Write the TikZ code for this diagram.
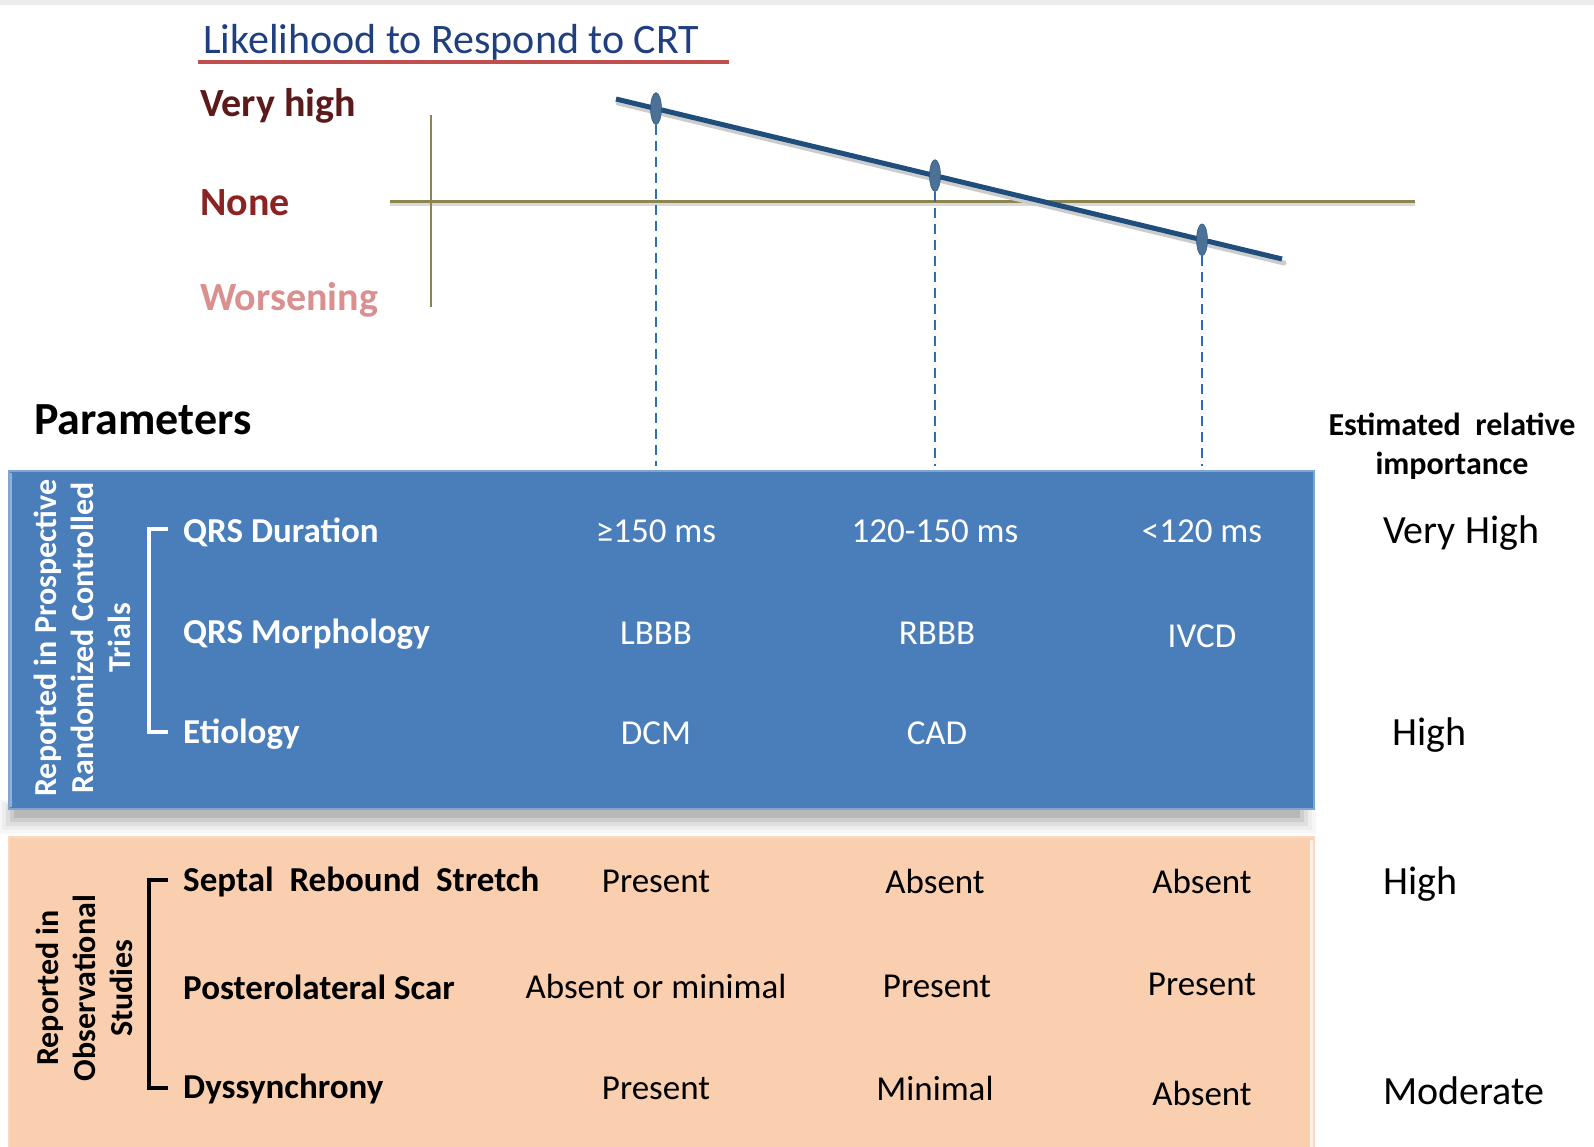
\documentclass[tikz,border=0pt]{standalone}
\usepackage{fontspec}
\setmainfont{Carlito}
\usetikzlibrary{calc,shapes.geometric}
\definecolor{titleblue}{HTML}{1F3F7F}
\definecolor{redline}{HTML}{C0504D}
\definecolor{vhcol}{HTML}{5C1A1A}
\definecolor{nonecol}{HTML}{8B2323}
\definecolor{worscol}{HTML}{D9908F}
\definecolor{olive}{HTML}{8B8550}
\definecolor{trendblue}{HTML}{1F4E7D}
\definecolor{dashblue}{HTML}{2E6DB4}
\definecolor{boxblue}{HTML}{4A7EBB}
\definecolor{peach}{HTML}{F9CFB0}
\tikzset{
  rowlab/.style={anchor=west, font=\fontsize{35}{40}\selectfont\bfseries},
  val/.style={anchor=center, font=\fontsize{35}{40}\selectfont},
  imp/.style={anchor=west, font=\fontsize{40}{46}\selectfont, text=black},
  lvl/.style={anchor=west, font=\fontsize{40}{46}\selectfont\bfseries},
  marker/.style={ellipse, fill=trendblue!80!white, draw=trendblue, minimum width=11pt, minimum height=32pt, inner sep=0pt},
  dashline/.style={dashblue, line width=2.8pt, dash pattern=on 10pt off 6pt},
  bracket/.style={line width=3.2pt},
  rottext/.style={rotate=90, align=center, font=\fontsize{32}{37}\selectfont\bfseries}
}
\begin{document}
\begin{tikzpicture}[x=1pt,y=-1pt]
\useasboundingbox (0,0) rectangle (1594,1147);
\fill[white] (0,0) rectangle (1594,1147);
\fill[black!8] (0,0) rectangle (1594,5);

% title
\node[anchor=west, font=\fontsize{42}{48}\selectfont, text=titleblue, inner sep=0pt] (title) at (203,42) {Likelihood to Respond to CRT};
\coordinate (ul1) at (198,62);
\coordinate (ul2) at (729,62);
\draw[redline, line width=3.5pt] (ul1) -- (ul2);

% levels
\node[lvl, text=vhcol, inner sep=0pt] (vh) at (200,106) {Very high};
\node[lvl, text=nonecol, inner sep=0pt] (none) at (200,203) {None};
\node[lvl, text=worscol, inner sep=0pt] (wors) at (200,300) {Worsening};

% axes
\coordinate (ax1) at (431,115);
\coordinate (ax2) at (431,307);
\coordinate (hx1) at (390,202);
\coordinate (hx2) at (1415,202);
\draw[black!15, line width=3pt] ($(hx1)+(0,3)$) -- ($(hx2)+(0,3)$);
\draw[olive, line width=2.4pt] (ax1) -- (ax2);
\draw[olive, line width=3pt] (hx1) -- (hx2);

% trend line
\coordinate (t1) at (616,99);
\coordinate (t2) at (1282,259);
\draw[black!20, line width=5pt, line cap=round] ($(t1)+(2,4)$) -- ($(t2)+(2,4)$);
\draw[trendblue, line width=5pt] (t1) -- (t2);

\node[marker] (m1) at (656,108.6) {};
\node[marker] (m2) at (935,175.6) {};
\node[marker] (m3) at (1202,239.8) {};

\coordinate (d1) at (656,466);
\coordinate (d2) at (935,466);
\coordinate (d3) at (1202,466);
\draw[dashline] (m1.south) -- (d1);
\draw[dashline] (m2.south) -- (d2);
\draw[dashline] (m3.south) -- (d3);

% headers
\node[anchor=west, font=\fontsize{46}{52}\selectfont\bfseries, inner sep=0pt] (params) at (34,420) {Parameters};
\node[align=center, font=\fontsize{32}{39}\selectfont\bfseries, inner sep=0pt] (esthdr) at (1452,446) {Estimated~~relative\\importance};

% shadow under blue box
\foreach \i/\o in {0/0.10,4/0.08,8/0.06,12/0.04,16/0.03}{
  \fill[black, opacity=\o] (14-\i,808-\i/2) rectangle (1300+\i,818+\i);
}

% blue box
\node[draw=boxblue!70!white, line width=2pt, fill=boxblue, minimum width=1305pt, minimum height=338pt, anchor=north west, inner sep=0pt] (bluebox) at (8,470) {};
\draw[boxblue!60!white, line width=2pt] ($(bluebox.north west)+(3,3)$) -- ($(bluebox.south west)+(3,-3)$);
\node[rottext, text=white] (rct) at (82,638) {Reported in Prospective\\Randomized Controlled\\Trials};
\coordinate (b1a) at (168,529);
\coordinate (b1b) at (149,529);
\coordinate (b1c) at (149,732);
\coordinate (b1d) at (168,732);
\draw[white, bracket] (b1a) -- (b1b) -- (b1c) -- (b1d);

\node[rowlab, text=white, inner sep=0pt] (qrsd) at (183,532) {QRS Duration};
\node[rowlab, text=white, inner sep=0pt] (qrsm) at (183,634) {QRS Morphology};
\node[rowlab, text=white, inner sep=0pt] (etio) at (183,734) {Etiology};

\node[val, text=white] (v11) at (656,531) {≥150 ms};
\node[val, text=white] (v12) at (935,531) {120-150 ms};
\node[val, text=white] (v13) at (1202,531) {<120 ms};
\node[val, text=white] (v21) at (656,633) {LBBB};
\node[val, text=white] (v22) at (937,633) {RBBB};
\node[val, text=white] (v23) at (1202,636) {IVCD};
\node[val, text=white] (v31) at (656,733) {DCM};
\node[val, text=white] (v32) at (937,733) {CAD};

\node[imp, inner sep=0pt] (iv1) at (1383,533) {Very High};
\node[imp, inner sep=0pt] (iv2) at (1392,735) {High};

% peach box
\node[draw=peach!80!white, line width=2pt, fill=peach, minimum width=1305pt, minimum height=311pt, anchor=north west, inner sep=0pt] (peachbox) at (8,836) {};
\draw[white!70!peach, line width=3pt] ($(peachbox.north east)+(-4,4)$) -- ($(peachbox.south east)+(-4,-2)$);
\node[rottext, text=black] (obs) at (84,988) {Reported in\\Observational\\Studies};
\coordinate (b2a) at (168,880);
\coordinate (b2b) at (149,880);
\coordinate (b2c) at (149,1088);
\coordinate (b2d) at (168,1088);
\draw[black, bracket] (b2a) -- (b2b) -- (b2c) -- (b2d);

\node[rowlab, text=black, inner sep=0pt] (srs) at (183,882) {Septal~ Rebound~ Stretch};
\node[rowlab, text=black, inner sep=0pt] (pls) at (183,987) {Posterolateral Scar};
\node[rowlab, text=black, inner sep=0pt] (dys) at (183,1089) {Dyssynchrony};

\node[val, text=black] (w11) at (656,881) {Present};
\node[val, text=black] (w12) at (935,881) {Absent};
\node[val, text=black] (w13) at (1202,881) {Absent};
\node[val, text=black] (w21) at (656,986) {Absent or minimal};
\node[val, text=black] (w22) at (937,986) {Present};
\node[val, text=black] (w23) at (1202,984) {Present};
\node[val, text=black] (w31) at (656,1088) {Present};
\node[val, text=black] (w32) at (935,1088) {Minimal};
\node[val, text=black] (w33) at (1202,1093) {Absent};

\node[imp, inner sep=0pt] (iw1) at (1383,884) {High};
\node[imp, inner sep=0pt] (iw2) at (1383,1091) {Moderate};
\end{tikzpicture}
\end{document}
